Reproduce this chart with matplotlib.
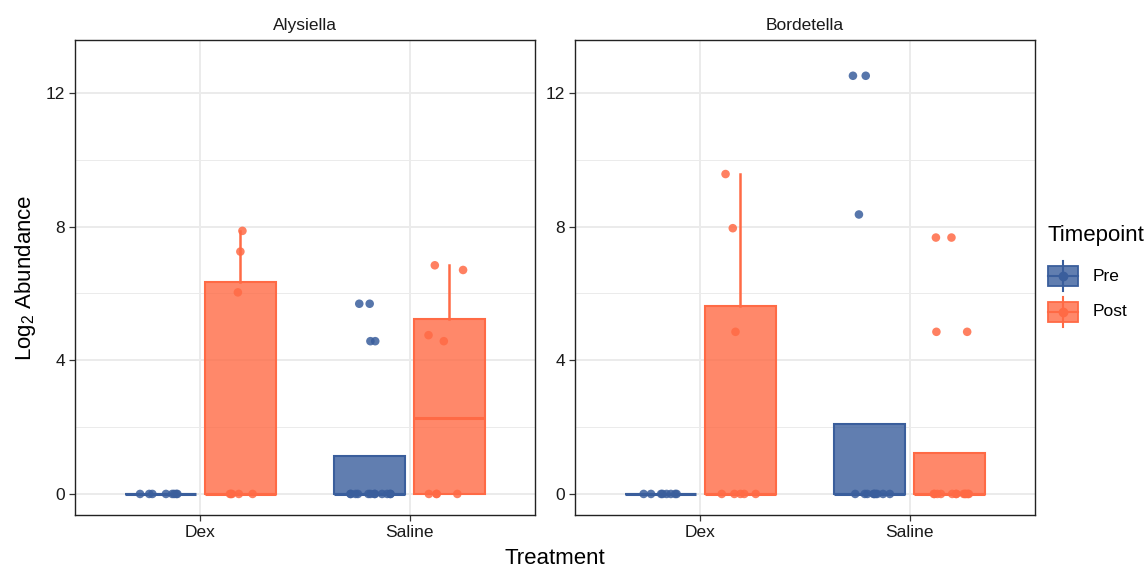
import numpy as np
import matplotlib
matplotlib.use("Agg")
import matplotlib.pyplot as plt
from matplotlib.patches import Rectangle
from matplotlib.lines import Line2D

plt.rcParams['font.family'] = ['Liberation Sans', 'DejaVu Sans']
plt.rcParams['mathtext.fontset'] = 'custom'
plt.rcParams['mathtext.rm'] = 'Liberation Sans'
plt.rcParams['mathtext.it'] = 'Liberation Sans:italic'
plt.rcParams['mathtext.default'] = 'rm'

# ---------------- data ----------------
genera = ["Alysiella", "Bordetella"]
treatments = ["Dex", "Saline"]
timepoints = ["Pre", "Post"]

alysiella_dex_pre = [0, 0, 0, 0, 0, 0, 0, 0]
alysiella_dex_post = [0, 0, 0, 0, 0, 6.03, 7.25, 7.87]
alysiella_saline_pre = [0] * 12 + [4.57, 4.57, 5.69, 5.69]
alysiella_saline_post = [0, 0, 0, 0, 4.57, 4.75, 6.70, 6.84]

bordetella_dex_pre = [0, 0, 0, 0, 0, 0, 0, 0]
bordetella_dex_post = [0, 0, 0, 0, 0, 4.85, 7.95, 9.57]
bordetella_saline_pre = [0] * 9 + [8.36, 12.51, 12.51]
bordetella_saline_post = [0] * 12 + [4.85, 4.85, 7.67, 7.67]

data = {
    "Alysiella": {("Dex", "Pre"): alysiella_dex_pre, ("Dex", "Post"): alysiella_dex_post,
                  ("Saline", "Pre"): alysiella_saline_pre, ("Saline", "Post"): alysiella_saline_post},
    "Bordetella": {("Dex", "Pre"): bordetella_dex_pre, ("Dex", "Post"): bordetella_dex_post,
                   ("Saline", "Pre"): bordetella_saline_pre, ("Saline", "Post"): bordetella_saline_post},
}

edge_colors = {"Pre": "#3A5E9C", "Post": "#FF6A45"}
y_ticks = [0, 4, 8, 12]

# ---------------- figure ----------------
W, H = 1148, 569
fig = plt.figure(figsize=(W / 100, H / 100), dpi=100)

def fx(px):
    return px / W

def fy(py):
    return 1 - py / H

panel_left = [75, 575]
panel_w = 460
panel_top, panel_bot = 40, 515

rng = np.random.default_rng(7)
dodge = 0.19
box_w = 0.34
small = 12.5
big = 16

axes = []
for gi, genus in enumerate(genera):
    ax = fig.add_axes([fx(panel_left[gi]), fy(panel_bot), fx(panel_w), (panel_bot - panel_top) / H])
    axes.append(ax)
    ax.set_xlim(0.4, 2.6)
    ax.set_ylim(-0.63, 13.58)
    ax.set_yticks(y_ticks)
    ax.set_yticks([2, 6, 10], minor=True)
    ax.set_xticks([1, 2])
    ax.set_xticklabels(treatments)
    ax.grid(True, which='major', color='#EBEBEB', linewidth=1.4, zorder=0)
    ax.grid(True, which='minor', axis='y', color='#EBEBEB', linewidth=0.7, zorder=0)
    ax.set_axisbelow(True)
    ax.tick_params(axis='both', which='major', length=4, width=0.9, color='#333333',
                   labelsize=small, labelcolor='#1A1A1A', pad=3)
    ax.tick_params(axis='both', which='minor', length=0)
    for s in ax.spines.values():
        s.set_color('#222222')
        s.set_linewidth(1.0)
    ax.set_title(genus, fontsize=small, color='#1A1A1A', pad=7)

    for ti, trt in enumerate(treatments):
        for pi, tp in enumerate(timepoints):
            vals = data[genus][(trt, tp)]
            pos = ti + 1 + (-dodge if tp == "Pre" else dodge)
            col = edge_colors[tp]
            ax.boxplot([vals], positions=[pos], widths=box_w, patch_artist=True,
                       showfliers=False, showcaps=False, manage_ticks=False,
                       boxprops=dict(facecolor=matplotlib.colors.to_rgba(col, 0.8), edgecolor=col, linewidth=1.5),
                       whiskerprops=dict(color=col, linewidth=1.8),
                       medianprops=dict(color=col, linewidth=2.2),
                       zorder=2)
            jit = rng.uniform(-0.1, 0.1, len(vals))
            ax.scatter(pos + jit, vals, s=38, color=col, alpha=0.85, edgecolors='none', zorder=3)

axes[0].set_ylabel(r"Log$_2$ Abundance", fontsize=big, labelpad=6)

fig.text(fx(555), fy(559), "Treatment", fontsize=big, ha='center', va='center')

# ---------------- legend ----------------
fig.text(fx(1047), fy(236), "Timepoint", fontsize=big, ha='left', va='center')
for tp, cy in zip(timepoints, [276, 312]):
    col = edge_colors[tp]
    x0, x1 = 1048, 1078
    y0, y1 = cy - 10, cy + 10
    cx = (x0 + x1) / 2
    fig.add_artist(Line2D([fx(cx), fx(cx)], [fy(cy - 15), fy(cy + 15)], color=col, linewidth=1.5))
    fig.add_artist(Rectangle((fx(x0), fy(y1)), fx(x1 - x0), (y1 - y0) / H,
                             facecolor=matplotlib.colors.to_rgba(col, 0.8), edgecolor=col, linewidth=1.3))
    fig.add_artist(Line2D([fx(x0), fx(x1)], [fy(cy), fy(cy)], color=col, linewidth=1.5))
    fig.add_artist(Line2D([fx(cx)], [fy(cy)], marker='o', markersize=6, color=col, linestyle='none'))
    fig.text(fx(1093), fy(cy), tp, fontsize=small, ha='left', va='center')

fig.savefig("out.png", dpi=100)
